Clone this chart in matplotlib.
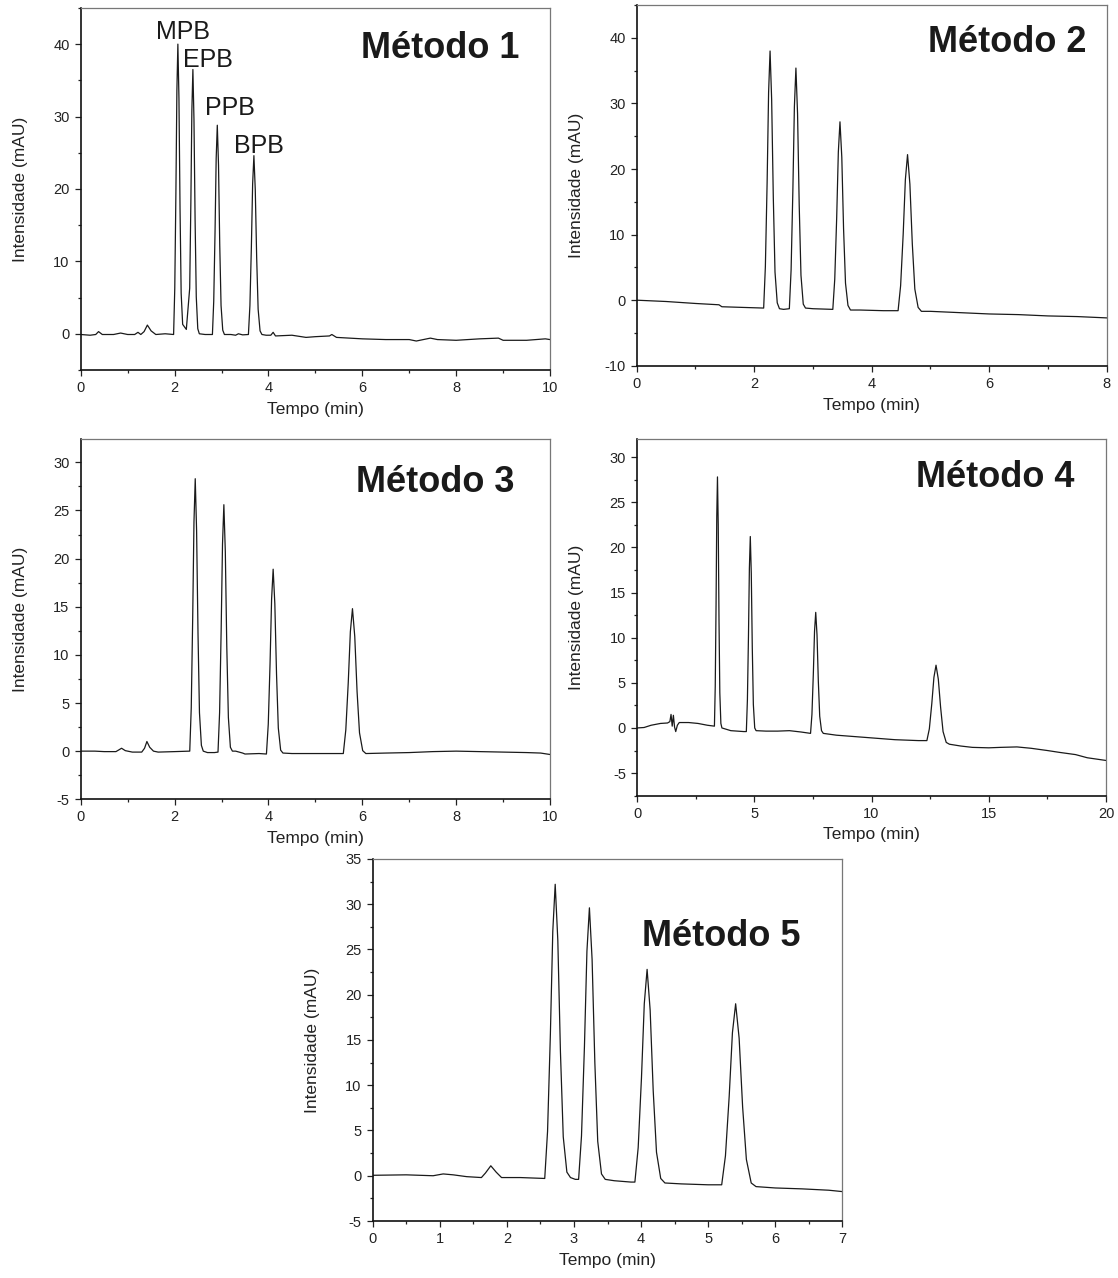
import numpy as np
import matplotlib
matplotlib.use("Agg")
from matplotlib import pyplot as plt
from matplotlib.ticker import MultipleLocator, AutoMinorLocator

# traces: (tempo em min, intensidade em mAU)
traco_m1 = [(0.0, -0.1), (0.2, -0.2), (0.32, -0.1), (0.38, 0.3), (0.46, -0.1), (0.7, -0.1),
            (0.85, 0.1), (1.0, -0.1), (1.15, -0.1), (1.22, 0.2), (1.28, -0.1), (1.35, 0.3),
            (1.42, 1.2), (1.5, 0.4), (1.6, -0.1), (1.8, 0.0),
            (1.979, -0.1), (2.004, 6.3), (2.028, 19.5), (2.049, 33.6), (2.07, 40.0), (2.093, 32.5),
            (2.116, 17.3), (2.14, 5.6), (2.172, 1.3), (2.25, 0.6),
            (2.322, 6.3), (2.347, 18.2), (2.368, 30.8), (2.39, 36.5), (2.413, 29.6), (2.437, 15.7),
            (2.462, 5.1), (2.494, 0.7), (2.527, 0.0), (2.65, -0.1),
            (2.806, -0.1), (2.834, 4.5), (2.862, 14.1), (2.886, 24.2), (2.91, 28.8), (2.936, 23.3),
            (2.962, 12.3), (2.99, 3.9), (3.026, 0.5), (3.062, -0.1),
            (3.2, -0.1), (3.3, -0.2), (3.36, 0.0), (3.45, -0.15),
            (3.573, -0.1), (3.605, 3.9), (3.636, 12.0), (3.663, 20.7), (3.69, 24.6), (3.719, 19.9),
            (3.749, 10.5), (3.78, 3.4), (3.821, 0.4), (3.861, -0.1),
            (3.95, -0.2), (4.05, -0.2), (4.1, 0.2), (4.15, -0.3), (4.5, -0.2), (4.8, -0.5),
            (5.0, -0.4), (5.3, -0.3), (5.35, -0.1), (5.45, -0.5), (6.0, -0.7), (6.5, -0.8),
            (7.0, -0.8), (7.15, -1.0), (7.45, -0.6), (7.6, -0.8), (8.0, -0.9), (8.5, -0.7),
            (8.9, -0.6), (9.0, -0.9), (9.5, -0.9), (9.9, -0.7), (10.0, -0.8)]

traco_m2 = [(0.0, 0.0), (0.5, -0.2), (1.0, -0.5), (1.4, -0.7), (1.45, -1.0), (1.8, -1.1),
            (2.161, -1.2), (2.19, 5.1), (2.22, 18.0), (2.245, 31.7), (2.27, 38.0), (2.297, 30.6),
            (2.325, 15.7), (2.354, 4.3), (2.392, -0.4), (2.43, -1.3), (2.5, -1.4),
            (2.598, -1.3), (2.628, 4.6), (2.658, 16.7), (2.684, 29.5), (2.71, 35.4), (2.738, 28.4),
            (2.766, 14.5), (2.796, 3.8), (2.835, -0.6), (2.873, -1.2), (3.0, -1.3),
            (3.338, -1.4), (3.371, 3.2), (3.404, 12.6), (3.432, 22.6), (3.46, 27.2), (3.491, 21.8),
            (3.521, 10.9), (3.554, 2.6), (3.596, -0.8), (3.639, -1.5), (3.8, -1.5), (4.2, -1.6),
            (4.449, -1.6), (4.492, 2.2), (4.536, 10.1), (4.573, 18.4), (4.61, 22.2), (4.65, 17.7),
            (4.691, 8.6), (4.734, 1.7), (4.79, -1.1), (4.846, -1.7),
            (5.0, -1.7), (5.5, -1.9), (6.0, -2.1), (6.5, -2.2), (7.0, -2.4), (7.5, -2.5), (8.0, -2.7)]

traco_m3 = [(0.0, 0.0), (0.3, 0.0), (0.5, -0.05), (0.75, -0.05), (0.82, 0.15), (0.87, 0.3),
            (0.95, 0.05), (1.1, -0.1), (1.3, -0.1), (1.36, 0.3), (1.41, 1.0), (1.47, 0.4),
            (1.55, 0.0), (1.65, -0.1), (2.0, -0.05),
            (2.323, 0.0), (2.355, 4.5), (2.386, 13.9), (2.413, 23.8), (2.44, 28.3), (2.469, 22.9),
            (2.499, 12.2), (2.53, 4.0), (2.571, 0.6), (2.611, 0.0), (2.7, -0.15), (2.85, -0.15),
            (2.925, -0.1), (2.959, 4.0), (2.992, 12.5), (3.021, 21.5), (3.05, 25.6), (3.081, 20.7),
            (3.112, 10.9), (3.146, 3.5), (3.189, 0.4), (3.232, 0.0),
            (3.3, 0.0), (3.45, -0.2), (3.5, -0.3), (3.8, -0.25),
            (3.957, -0.3), (3.996, 2.8), (4.034, 9.1), (4.067, 15.8), (4.1, 18.9), (4.136, 15.3),
            (4.172, 8.0), (4.21, 2.4), (4.26, 0.1), (4.309, -0.2),
            (4.5, -0.25), (5.0, -0.25), (5.5, -0.25),
            (5.595, -0.25), (5.648, 2.2), (5.7, 7.1), (5.745, 12.4), (5.79, 14.8), (5.839, 11.9),
            (5.888, 6.2), (5.94, 1.9), (6.008, 0.05), (6.075, -0.25),
            (6.5, -0.2), (7.0, -0.15), (7.5, -0.05), (8.0, 0.0), (8.5, -0.05), (9.0, -0.1),
            (9.5, -0.15), (9.8, -0.2), (10.0, -0.35)]

traco_m4 = [(0.0, 0.0), (0.3, 0.05), (0.6, 0.3), (1.0, 0.5), (1.3, 0.55), (1.4, 0.7),
            (1.45, 1.5), (1.5, 0.2), (1.55, 1.4), (1.6, 0.1), (1.65, -0.4), (1.72, 0.3),
            (1.8, 0.6), (2.2, 0.6), (2.6, 0.5), (3.0, 0.3),
            (3.3, 0.2), (3.335, 4.6), (3.37, 13.7), (3.4, 23.4), (3.43, 27.8), (3.4625, 22.5),
            (3.495, 12.0), (3.53, 3.9), (3.575, 0.5), (3.62, 0.0), (4.0, -0.3), (4.55, -0.4),
            (4.661, -0.4), (4.7065, 3.1), (4.752, 10.2), (4.791, 17.7), (4.83, 21.2), (4.872, 17.1),
            (4.9145, 8.9), (4.96, 2.6), (5.0185, 0.0), (5.077, -0.3),
            (5.5, -0.35), (6.0, -0.35), (6.5, -0.3), (7.0, -0.45),
            (7.399, -0.6), (7.4585, 1.5), (7.518, 6.0), (7.569, 10.7), (7.62, 12.8), (7.675, 10.3),
            (7.7305, 5.2), (7.79, 1.3), (7.8665, -0.3), (7.943, -0.6),
            (8.5, -0.8), (9.0, -0.9), (10.0, -1.1), (11.0, -1.3), (12.0, -1.4),
            (12.36, -1.4), (12.465, -0.1), (12.57, 2.7), (12.66, 5.6), (12.75, 6.95), (12.8475, 5.4),
            (12.945, 2.3), (13.05, -0.4), (13.185, -1.6), (13.32, -1.8),
            (13.8, -2.0), (14.3, -2.15), (15.0, -2.2), (15.5, -2.15), (16.2, -2.1), (16.8, -2.25),
            (17.5, -2.5), (18.0, -2.7), (18.7, -2.95), (19.2, -3.3), (20.0, -3.6)]

traco_m5 = [(0.0, 0.05), (0.5, 0.1), (0.9, 0.0), (1.05, 0.2), (1.2, 0.1), (1.4, -0.1),
            (1.62, -0.2), (1.68, 0.3), (1.76, 1.1), (1.84, 0.4), (1.92, -0.2), (2.2, -0.2),
            (2.564, -0.3), (2.606, 4.9), (2.648, 15.6), (2.684, 27.0), (2.72, 32.2), (2.759, 26.0),
            (2.798, 13.7), (2.84, 4.3), (2.894, 0.4), (2.948, -0.2), (3.02, -0.4),
            (3.069, -0.4), (3.112, 4.4), (3.156, 14.3), (3.193, 24.8), (3.23, 29.6), (3.27, 23.9),
            (3.311, 12.5), (3.354, 3.8), (3.41, 0.2), (3.466, -0.4), (3.6, -0.55), (3.85, -0.7),
            (3.908, -0.7), (3.957, 3.1), (4.006, 10.8), (4.048, 19.0), (4.09, 22.8), (4.1355, 18.3),
            (4.181, 9.4), (4.23, 2.6), (4.293, -0.3), (4.356, -0.8),
            (4.6, -0.9), (5.0, -1.0), (5.15, -1.0),
            (5.202, -1.0), (5.258, 2.2), (5.314, 8.8), (5.362, 15.8), (5.41, 19.0), (5.462, 15.2),
            (5.514, 7.6), (5.57, 1.8), (5.642, -0.8), (5.714, -1.2),
            (6.0, -1.35), (6.4, -1.45), (6.8, -1.6), (7.0, -1.75)]

titulos = ["Método 1", "Método 2", "Método 3", "Método 4", "Método 5"]
tracos = [traco_m1, traco_m2, traco_m3, traco_m4, traco_m5]
xlims = [(0, 10), (0, 8), (0, 10), (0, 20), (0, 7)]
ylims = [(-5, 45), (-10, 45), (-5, 32.4), (-7.5, 32), (-5, 35)]
xpassos = [2, 2, 2, 5, 1]
ypassos = [10, 10, 5, 5, 5]

# peak names in Método 1 and where they sit
picos_nomes = ["MPB", "EPB", "PPB", "BPB"]
picos_pos = [(2.18, 41.7), (2.71, 37.8), (3.18, 31.2), (3.80, 25.9)]

# axes boxes in figure fraction and title anchor in axes fraction
caixas = [[0.0722, 0.7105, 0.4198, 0.2833],
          [0.5695, 0.7138, 0.4204, 0.2822],
          [0.0722, 0.3746, 0.4198, 0.2817],
          [0.5698, 0.3774, 0.4195, 0.2791],
          [0.3334, 0.0446, 0.4200, 0.2833]]
titulo_pos = [(0.766, 0.889), (0.788, 0.895), (0.755, 0.879), (0.763, 0.893), (0.742, 0.785)]

plt.rcParams['font.family'] = ['Liberation Sans', 'DejaVu Sans']
plt.rcParams['axes.unicode_minus'] = False

fig = plt.figure(figsize=(11.18, 12.78), dpi=100)

for i in range(5):
    ax = fig.add_axes(caixas[i])
    t, y = np.array(tracos[i]).T
    ax.plot(t, y, color='#1a1a1a', lw=0.9)
    ax.set_xlim(*xlims[i])
    ax.set_ylim(*ylims[i])
    ax.xaxis.set_major_locator(MultipleLocator(xpassos[i]))
    ax.yaxis.set_major_locator(MultipleLocator(ypassos[i]))
    ax.xaxis.set_minor_locator(AutoMinorLocator(2))
    ax.yaxis.set_minor_locator(AutoMinorLocator(2))
    ax.tick_params(which='major', direction='out', length=4, width=0.9, pad=4,
                   labelsize=10.5, colors='#222222')
    ax.tick_params(which='minor', direction='out', length=2.2, width=0.9, colors='#222222')
    ax.tick_params(top=False, right=False, which='both')
    for lado in ['left', 'bottom']:
        ax.spines[lado].set_linewidth(1.2)
        ax.spines[lado].set_color('#111111')
    for lado in ['top', 'right']:
        ax.spines[lado].set_linewidth(0.9)
        ax.spines[lado].set_color('#777777')
    ax.set_xlabel('Tempo (min)', fontsize=12.5, color='#222222')
    ax.set_ylabel('Intensidade (mAU)', fontsize=12.5, color='#222222')
    ax.yaxis.set_label_coords(-0.113, 0.5)
    ax.xaxis.set_label_coords(0.5, -0.088)
    ax.text(titulo_pos[i][0], titulo_pos[i][1], titulos[i], transform=ax.transAxes,
            ha='center', va='center', fontsize=26, fontweight='bold', color='#1a1a1a')
    if i == 0:
        for nome, (px, py) in zip(picos_nomes, picos_pos):
            ax.text(px, py, nome, ha='center', va='center', fontsize=18, color='#1a1a1a')

fig.savefig('out.png', dpi=100)
